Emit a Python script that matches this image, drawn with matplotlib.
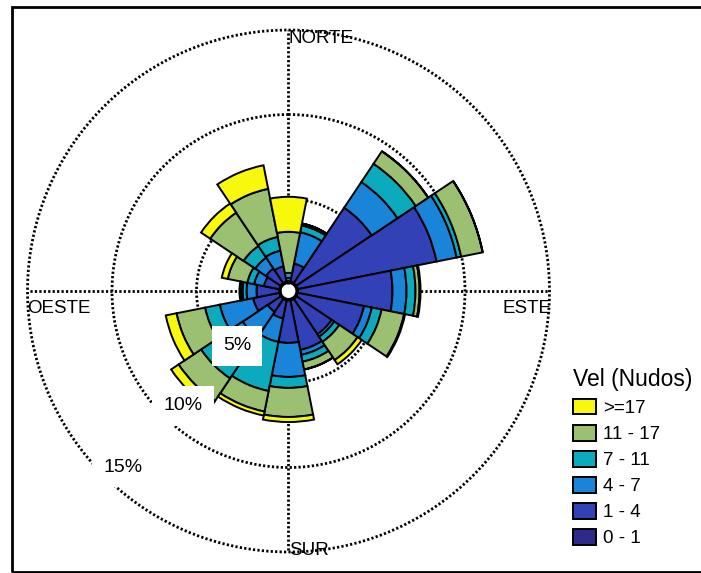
import numpy as np
import matplotlib.pyplot as plt
from matplotlib.patches import Rectangle

plt.rcParams["font.family"] = ["Liberation Sans", "DejaVu Sans"]

W, H = 701, 573

# rumbos (sentido horario desde el norte)
rumbos = ["N", "NNE", "NE", "ENE", "E", "ESE", "SE", "SSE",
          "S", "SSW", "SW", "WSW", "W", "WNW", "NW", "NNW"]

# frecuencias (%) por rango de velocidad
vel_0_1 = [0.09, 0.12, 0.12, 0.12, 0.12, 0.12, 0.12, 0.12,
           0.12, 0.12, 0.12, 0.12, 0.12, 0.12, 0.12, 0.12]
vel_1_4 = [0.06, 1.09, 5.36, 8.37, 5.59, 3.99, 2.51, 2.99,
           2.51, 1.09, 0.92, 1.57, 1.33, 0.92, 1.04, 0.92]
vel_4_7 = [0.18, 1.89, 1.83, 1.21, 0.83, 0.47, 0.18, 0.30,
           2.01, 1.42, 1.78, 2.01, 0.59, 0.59, 0.77, 0.95]
vel_7_11 = [0.30, 0.41, 1.30, 0.27, 0.53, 0.59, 0.36, 0.41,
            0.65, 2.96, 2.96, 0.89, 0.24, 0.41, 0.83, 0.83]
vel_11_17 = [2.43, 0.12, 0.89, 1.30, 0.24, 1.36, 1.30, 0.47,
             1.72, 1.24, 1.60, 1.72, 0.12, 1.18, 2.37, 2.90]
vel_17 = [2.07, 0.00, 0.00, 0.00, 0.06, 0.06, 0.30, 0.00,
          0.30, 0.24, 0.53, 0.65, 0.06, 0.36, 0.65, 1.42]

rangos = ["0 - 1", "1 - 4", "4 - 7", "7 - 11", "11 - 17", ">=17"]
colores = ["#2e2a8a", "#3341b6", "#1984d8", "#0babbd", "#9cc072", "#f8f80c"]
circulos = [5, 10, 15]

hueco = 7.5 / 16.9  # radio del hueco central en unidades de %

fig = plt.figure(figsize=(W / 100, H / 100), dpi=100)

cx, cy, R = 288.5, 291, 261
ax = fig.add_axes([(cx - R) / W, (H - cy - R) / H, 2 * R / W, 2 * R / H],
                  projection="polar")
ax.set_theta_zero_location("N")
ax.set_theta_direction(-1)
ax.set_rorigin(-hueco)
ax.set_ylim(0, 15)
ax.grid(False)
ax.set_xticks([])
ax.set_yticks([])
ax.spines["polar"].set_visible(False)

theta = np.deg2rad(np.arange(len(rumbos)) * 22.5)
ancho = 2 * np.pi / len(rumbos)

# rejilla punteada
dots = (0, (0.8, 0.8))
tt = np.linspace(0, 2 * np.pi, 400)
for c in circulos:
    ax.plot(tt, np.full_like(tt, c), color="black", lw=2, ls=dots,
            zorder=1, clip_on=False)
for a in [0, 90, 180, 270]:
    ax.plot([np.deg2rad(a)] * 2, [0, 15], color="black", lw=2, ls=dots,
            zorder=1, clip_on=False)

series = [vel_0_1, vel_1_4, vel_4_7, vel_7_11, vel_11_17, vel_17]
base = np.zeros(len(rumbos))
handles = []
for vals, col, lab in zip(series, colores, rangos):
    vals = np.array(vals)
    b = ax.bar(theta, vals, width=ancho, bottom=base, color=col,
               edgecolor="black", linewidth=1.4, zorder=3, label=lab)
    handles.append(b)
    base = base + vals

# borde del hueco central
ax.plot(tt, np.zeros_like(tt), color="black", lw=1.4, zorder=4)

# puntos cardinales
fs = 13.5
fig.text(289 / W, 1 - 30 / H, "NORTE", fontsize=fs, ha="left", va="top")
fig.text(289 / W, 1 - 555 / H, "SUR", fontsize=fs, ha="left", va="baseline")
fig.text(27 / W, 1 - 313 / H, "OESTE", fontsize=fs, ha="left", va="baseline")
fig.text(551 / W, 1 - 313 / H, "ESTE", fontsize=fs, ha="right", va="baseline")

# etiquetas de los circulos
box = dict(facecolor="white", edgecolor="none", pad=8)
for txt, (px, py) in zip(["5%", "10%", "15%"], [(237, 346), (183, 406), (123, 467)]):
    fig.text(px / W, 1 - py / H, txt, fontsize=14, ha="center", va="center",
             bbox=box, zorder=5)

leg = fig.legend(handles[::-1], rangos[::-1], title="Vel (Nudos)",
                 loc="upper left", bbox_to_anchor=(558 / W, 1 - 353 / H),
                 frameon=False, fontsize=13.5, title_fontsize=16.5,
                 handlelength=1.25, handleheight=0.92, labelspacing=0.41,
                 handletextpad=0.35, borderpad=0.3, alignment="left")

# marco exterior
fig.patches.append(Rectangle((12 / W, 1.5 / H), 1.0, (H - 8) / H,
                             transform=fig.transFigure, fill=False,
                             edgecolor="black", linewidth=2, clip_on=True))

fig.savefig("out.png", dpi=100)
